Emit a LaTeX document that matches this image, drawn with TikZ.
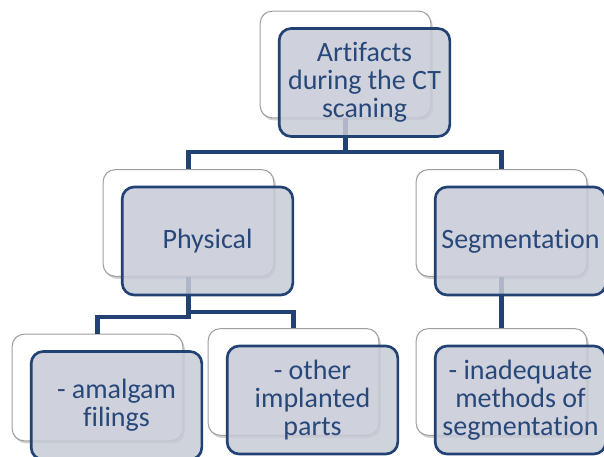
\documentclass[tikz,border=0pt]{standalone}
\usepackage{fontspec}
\setmainfont{Carlito}[Ligatures=NoCommon]
\usepackage{tikz}
\usetikzlibrary{shapes,positioning,calc,shadows}
\definecolor{navy}{RGB}{34,66,116}
\definecolor{inktext}{RGB}{40,72,122}
\definecolor{veil}{RGB}{199,203,214}

\begin{document}
\begin{tikzpicture}[
    x=0.75pt, y=0.75pt,
    backbox/.style={draw=gray!75, line width=0.8pt, fill=white, rounded corners=9pt,
        minimum width=128pt, minimum height=80pt,
        drop shadow={shadow xshift=1.5pt, shadow yshift=-2pt, opacity=0.18, fill=black}},
    frontbox/.style={draw=navy, line width=2pt, fill=veil, fill opacity=0.85, text opacity=1,
        rounded corners=9pt, minimum width=128pt, minimum height=81pt, align=center,
        text=inktext, font=\fontsize{21}{21}\selectfont},
    link/.style={draw=navy, line width=3.6pt},
]
\useasboundingbox (0,0) rectangle (604,457);
\clip (0,0) rectangle (604,457);

% Back cards
\node[backbox] (artifactsback) at (345.5,392.5) {};
\node[backbox] (physicalback) at (188.5,234) {};
\node[backbox] (segmentback) at (501.5,234) {};
\node[backbox] (amalgamback) at (97.5,69.5) {};
\node[backbox] (implantsback) at (293.5,75) {};
\node[backbox] (methodsback) at (501.5,75) {};

% Joints of the tree
\coordinate (topjoint) at (345.5,305);
\coordinate (physjointR) at (188.5,145);
\coordinate (physjointL) at (188.5,140);

% Connectors
\draw[link] (artifactsback.south) -- (topjoint) -| (physicalback.north);
\draw[link] (topjoint) -| (segmentback.north);
\draw[link] (physicalback.south) -- (physjointR) -| (implantsback.north);
\draw[link] (physicalback.south) -- (physjointL) -| (amalgamback.north);
\draw[link] (segmentback.south) -- (methodsback.north);

% Front cards
\node[frontbox] (artifacts) at ([shift={(19,-18)}]artifactsback.center) {Artifacts\\during the CT\\scaning};
\node[frontbox] (physical) at ([shift={(19,-18)}]physicalback.center) {Physical};
\node[frontbox] (segment) at ([shift={(19,-18)}]segmentback.center) {Segmentation};
\node[frontbox] (amalgam) at ([shift={(19,-18)}]amalgamback.center) {- amalgam\\filings};
\node[frontbox] (implants) at ([shift={(19,-18)}]implantsback.center) {- other\\implanted\\parts};
\node[frontbox] (methods) at ([shift={(19,-18)}]methodsback.center) {- inadequate\\methods of\\segmentation};

\end{tikzpicture}
\end{document}
